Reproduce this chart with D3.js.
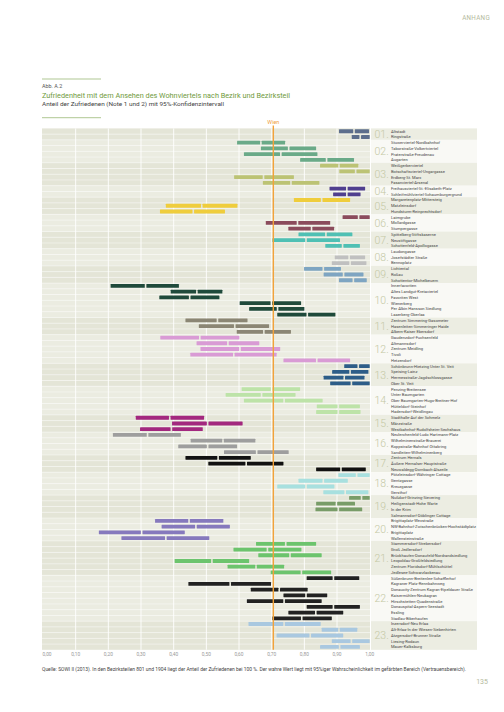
<!DOCTYPE html>
<html><head><meta charset="utf-8">
<script src="https://cdn.jsdelivr.net/npm/d3@7"></script>
<style>
html,body{margin:0;padding:0;background:#fff;}
svg{display:block;font-family:Roboto,"Open Sans",sans-serif;}
</style></head>
<body><svg id="c" width="504" height="712"></svg>
<script>
// ---- data ----
const districts = ["01","02","03","04","05","06","07","08","09","10","11","12","13","14","15","16","17","18","19","20","21","22","23"];
const districtColors = ["#5d6e8c","#6aaa88","#bcc374","#503f8f","#efcd3c","#8b4b5c","#4fc0b4","#c0c0c0","#7ea5c2","#1f4a3b","#8b8674","#d99bd5","#2d5d88","#bde3a8","#a3287f","#9e9e9e","#111111","#a8e0df","#789c68","#8679bd","#6cc46d","#222222","#a9c8e0"];
const areaCounts = [2,4,4,2,3,3,3,3,3,6,3,5,4,5,3,4,3,4,4,4,6,8,5];
const areaNames = [
"Altstadt","Ringstraße",
"Stuwerviertel-Nordbahnhof","Taborstraße-Volkertviertel","Praterstraße-Freudenau","Augarten",
"Weißgerberviertel","Botschaftsviertel-Ungargasse","Erdberg-St. Marx","Fasanviertel-Arsenal",
"Freihausviertel-St.-Elisabeth-Platz","Schleifmühlviertel-Schaumburgergrund",
"Margaretenplatz-Mittersteig","Matzleinsdorf","Hundsturm-Reinprechtsdorf",
"Laimgrube","Mollardgasse","Stumpergasse",
"Spittelberg-Stiftskaserne","Neustiftgasse","Schottenfeld-Apollogasse",
"Laudongasse","Josefstädter Straße","Bennoplatz",
"Lichtental","Roßau","Schottentor-Michelbeuern",
"Innerfavoriten","Altes Landgut-Kretaviertel","Favoriten West","Wienerberg","Per Albin Hansson Siedlung","Laaerberg-Oberlaa",
"Zentrum Simmering-Gasometer","Hasenleiten-Simmeringer Haide","Albern-Kaiser Ebersdorf",
"Gaudenzdorf-Fuchsenfeld","Altmannsdorf","Zentrum Meidling","Tivoli","Hetzendorf",
"Schönbrunn-Hietzing Unter St. Veit","Speising-Lainz","Hermesstraße-Jagdschlossgasse","Ober St. Veit",
"Penzing-Breitensee","Unter Baumgarten","Ober Baumgarten-Hugo-Breitner-Hof","Hütteldorf-Steinhof","Hadersdorf-Weidlingau",
"Stadthalle-Auf der Schmelz","Märzstraße","Westbahnhof-Rudolfsheim-Sechshaus",
"Neulerchenfeld-Ludo Hartmann-Platz","Wilhelminenstraße-Brauerei","Koppstraße-Bahnhof Ottakring","Sandleiten-Wilhelminenberg",
"Zentrum Hernals","Äußere Hernalser Hauptstraße","Neuwaldegg-Dornbach-Alszeile",
"Pötzleinsdorf-Währinger Cottage","Gentzgasse","Kreuzgasse","Gersthof",
"Nußdorf-Grinzing-Sievering","Heiligenstadt-Hohe Warte","In der Krim","Salmannsdorf-Döblinger Cottage",
"Brigittaplatz-Wexstraße","NW-Bahnhof-Zwischenbrücken-Hochstädtplatz","Brigittaplatz","Wallensteinstraße",
"Stammersdorf-Strebersdorf","Groß Jedlersdorf","Brückhaufen-Donaufeld-Nordrandsiedlung","Leopoldau-Großfeldsiedlung","Zentrum Floridsdorf-Mühlschüttel","Jedlesee-Schwarzlackenau",
"Süßenbrunn-Breitenlee-Schafflerhof","Kagraner Platz-Rennbahnweg","Donaucity-Zentrum Kagran-Eipeldauer Straße","Kaisermühlen-Neukagran","Hirschstetten-Quadenstraße","Donauspital-Aspern-Seestadt","Essling","Stadlau-Biberhaufen",
"Inzersdorf-Neu Erlaa","Alt-Erlaa-In der Wiesen-Siebenhirten","Atzgersdorf-Brunner Straße","Liesing-Rodaun","Mauer-Kalksburg"
];
const lower = [.906,.945, .594,.667,.615,.787, .848,.907,.585,.673, .877,.888, .768,.376,.358, .917,.682,.751, .782,.702,.864, null,.893,.884, .799,.859,.906,
 .207,.391,.356,.602,.631,.717, .436,.477,.593, .359,.470,.482,.451,.736, .922,.885,.859,.879, .608,.559,.615,.838,.836, .284,.395,.297,
 .214,.452,.414,.554, .436,.506,.836, .904,.782,.717,.858, .937,.836,.834,null, .343,.363,.171,.240, .652,.583,.659,.403,.565,.697,
 .807,.445,.636,.736,.624,.807,.751,.702, .629,.853,.715,.884,.848];
const estimate = [.952,.971, .667,.752,.728,.868, .906,.957,.675,.759, .930,.930, .853,.486,.460, .966,.779,.822, .866,.805,.917, null,.937,.940, .858,.920,.950,
 .314,.471,.449,.699,.718,.809, .534,.587,.676, .480,.566,.603,.584,.838, .965,.940,.922,.944, .700,.669,.738,.904,.904, .388,.504,.393,
 .320,.551,.504,.654, .536,.622,.912, .960,.858,.805,.925, .975,.898,.904,null, .447,.468,.302,.376, .743,.687,.756,.517,.652,.791,
 .889,.573,.723,.805,.738,.889,.835,.792, .738,.906,.818,.944,.908];
const upper = [.998,1.0, .741,.836,.840,.952, .965,1.0,.768,.846, .986,.972, .940,.595,.557, 1.0,.879,.891, .947,.909,.970, null,.986,.990, .912,.981,.991,
 .416,.549,.540,.790,.800,.895, .626,.692,.759, .601,.662,.726,.715,.940, 1.0,.996,.984,1.0, .787,.773,.856,.970,.972, .493,.611,.489,
 .422,.650,.594,.752, .636,.736,.988, 1.0,.933,.892,.996, 1.0,.955,.977,null, .552,.572,.434,.509, .836,.791,.853,.631,.738,.882,
 .968,.698,.810,.870,.853,.970,.919,.884, .850,.962,.919,1.0,.970];
const wienValue = 0.705;
const xTicks = [0,0.1,0.2,0.3,0.4,0.5,0.6,0.7,0.8,0.9,1.0];

// ---- build rows ----
const rows = [];
areaCounts.forEach((n, di) => { for (let k = 0; k < n; k++) rows.push({d: di}); });
rows.forEach((r, i) => { r.i = i; r.name = areaNames[i]; r.lo = lower[i]; r.est = estimate[i]; r.hi = upper[i]; });
const groups = [];
let start = 0;
areaCounts.forEach((n, di) => { groups.push({d: di, s: start, e: start + n - 1}); start += n; });

const svg = d3.select("#c");
const plotL = 42, plotR = 370, labR = 477;
const x = d3.scaleLinear().domain([0, 1]).range([43, 369.7]);
const y = d3.scaleBand().domain(d3.range(rows.length)).range([128.4, 649.8]).padding(0);
const rh = y.bandwidth();

// header
svg.append("text").attr("x", 490).attr("y", 20).attr("text-anchor", "end")
  .attr("font-size", 6.3).attr("fill", "#b4ba9c").attr("letter-spacing", 0.3).text("ANHANG");
svg.append("line").attr("x1", 42).attr("x2", 101).attr("y1", 79).attr("y2", 79).attr("stroke", "#7aa14a").attr("stroke-width", 0.6);
svg.append("text").attr("x", 42).attr("y", 87.6).attr("font-size", 5.4).attr("fill", "#555").text("Abb. A.2");
svg.append("text").attr("x", 42).attr("y", 98.4).attr("font-size", 8).attr("fill", "#6f9a3c")
  .attr("textLength", 248).attr("lengthAdjust", "spacingAndGlyphs")
  .text("Zufriedenheit mit dem Ansehen des Wohnviertels nach Bezirk und Bezirksteil");
svg.append("text").attr("x", 42).attr("y", 106.4).attr("font-size", 6).attr("fill", "#444")
  .attr("textLength", 182).attr("lengthAdjust", "spacingAndGlyphs")
  .text("Anteil der Zufriedenen (Note 1 und 2) mit 95%-Konfidenzintervall");
svg.append("line").attr("x1", 42).attr("x2", 101).attr("y1", 117.7).attr("y2", 117.7).attr("stroke", "#7aa14a").attr("stroke-width", 0.6);

// backgrounds
const g = svg.append("g");
g.selectAll("rect.lab").data(groups).join("rect").attr("class", "lab")
  .attr("x", plotR + 1).attr("width", labR - plotR - 1)
  .attr("y", d => y(d.s)).attr("height", d => y(d.e) + rh - y(d.s))
  .attr("fill", d => d.d % 2 === 0 ? "#ecede2" : "#f9f9f5");
g.selectAll("rect.bg").data(rows).join("rect").attr("class", "bg")
  .attr("x", plotL).attr("width", plotR - plotL)
  .attr("y", d => y(d.i)).attr("height", rh)
  .attr("fill", d => d.d % 2 === 0 ? "#e4e5d7" : "#ebece1");
// row separators
g.selectAll("line.rs").data(rows.slice(1)).join("line").attr("class", "rs")
  .attr("x1", plotL).attr("x2", plotR).attr("y1", d => y(d.i)).attr("y2", d => y(d.i))
  .attr("stroke", "#fff").attr("stroke-width", 0.5).attr("stroke-opacity", 0.8);
// vertical gridlines
g.selectAll("line.vg").data(xTicks.slice(1, -1)).join("line").attr("class", "vg")
  .attr("x1", d => x(d)).attr("x2", d => x(d)).attr("y1", y(0)).attr("y2", y(rows.length - 1) + rh)
  .attr("stroke", "#fff").attr("stroke-width", 0.9);

// bars
const gap = 0.8, bh = 3.8;
const barData = rows.filter(r => r.lo !== null);
const bars = svg.append("g");
bars.selectAll("rect.l").data(barData).join("rect").attr("class", "l")
  .attr("x", d => x(d.lo)).attr("width", d => Math.max(0, x(d.est) - gap - x(d.lo)))
  .attr("y", d => y(d.i) + (rh - bh) / 2).attr("height", bh).attr("rx", 0.4)
  .attr("fill", d => districtColors[d.d]);
bars.selectAll("rect.u").data(barData).join("rect").attr("class", "u")
  .attr("x", d => x(d.est) + gap).attr("width", d => Math.max(0, x(d.hi) - x(d.est) - gap))
  .attr("y", d => y(d.i) + (rh - bh) / 2).attr("height", bh).attr("rx", 0.4)
  .attr("fill", d => districtColors[d.d]);

// Wien line
svg.append("line").attr("x1", x(wienValue)).attr("x2", x(wienValue))
  .attr("y1", 125.5).attr("y2", y(rows.length - 1) + rh)
  .attr("stroke", "#f2a23a").attr("stroke-width", 1.4);
svg.append("text").attr("x", x(wienValue)).attr("y", 124).attr("text-anchor", "middle")
  .attr("font-size", 5.4).attr("fill", "#f0a040").text("Wien");

// district numbers and area labels
svg.append("g").selectAll("text").data(groups).join("text")
  .attr("x", 374.5).attr("y", d => (y(d.s) + y(d.e) + rh) / 2).attr("dy", "0.36em")
  .attr("font-size", 10.5).attr("font-weight", 300).attr("fill", "#c4c8a4")
  .text(d => districts[d.d] + ".");
svg.append("g").selectAll("text").data(rows).join("text")
  .attr("x", 391).attr("y", d => y(d.i) + rh / 2).attr("dy", "0.35em")
  .attr("font-size", 4.1).attr("fill", "#444").text(d => d.name);

// x axis labels
svg.append("g").selectAll("text").data(xTicks).join("text")
  .attr("x", d => d === 0 ? x(d) - 0.5 : x(d)).attr("y", 656)
  .attr("text-anchor", d => d === 0 ? "start" : "middle")
  .attr("font-size", 4.8).attr("fill", "#999")
  .text(d => d3.format(".2f")(d).replace(".", ","));

// footer
svg.append("text").attr("x", 42).attr("y", 670.5).attr("font-size", 4.6).attr("fill", "#444")
  .attr("textLength", 424).attr("lengthAdjust", "spacingAndGlyphs")
  .text("Quelle: SOWI II (2013). In den Bezirksteilen 801 und 1904 liegt der Anteil der Zufriedenen bei 100 %. Der wahre Wert liegt mit 95%iger Wahrscheinlichkeit im gefärbten Bereich (Vertrauensbereich).");
svg.append("text").attr("x", 488).attr("y", 684).attr("text-anchor", "end")
  .attr("font-size", 7).attr("fill", "#b4ba9c").text("135");
</script></body></html>
